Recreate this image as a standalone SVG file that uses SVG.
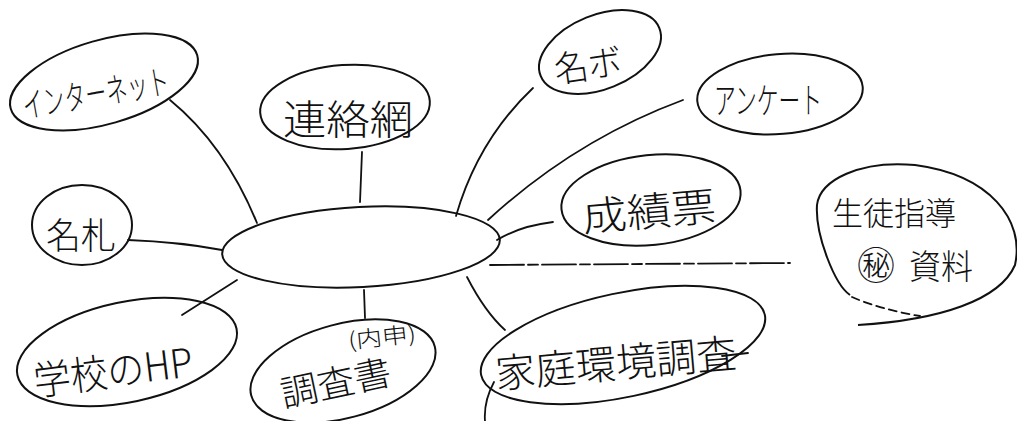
<svg xmlns="http://www.w3.org/2000/svg" width="1017" height="421" viewBox="0 0 1017 421">
<style>
.n{fill:none;stroke:#111;stroke-width:2}
.t{font-family:"Noto Sans CJK JP","Noto Sans CJK SC",sans-serif;fill:#111;font-weight:300}
.c{fill:none;stroke:#111;stroke-width:1.8;stroke-linecap:round}
</style>
<rect width="1017" height="421" fill="#fff"/>
<g id="connectors">
<path class="c" d="M170,100 Q225,145 257,223"/>
<path class="c" d="M362,152 L360,202"/>
<path class="c" d="M533,88 Q478,140 456,216"/>
<path class="c" d="M683,100 Q575,140 488,220"/>
<path class="c" d="M497,240 Q520,226 553,222"/>
<path class="c" d="M490,265 L790,263" stroke-dasharray="34 4 10 4"/>
<path class="c" d="M128,240 Q180,242 222,250"/>
<path class="c" d="M237,280 L182,315"/>
<path class="c" d="M364,290 L365,318"/>
<path class="c" d="M467,277 Q485,312 505,330"/>
</g>
<g id="center"><ellipse class="n" cx="361" cy="247" rx="139" ry="40" transform="rotate(-3 361 247)"/></g>
<g id="internet">
<ellipse class="n" cx="104" cy="82" rx="97" ry="42" transform="rotate(-16 104 82)"/>
<text class="t" x="22" y="106" font-size="34" textLength="148" lengthAdjust="spacingAndGlyphs" transform="rotate(-10 95 95)">インターネット</text>
</g>
<g id="renrakumou">
<ellipse class="n" cx="345" cy="107" rx="85" ry="42" transform="rotate(-4 345 107)"/>
<text class="t" x="283" y="134" font-size="40" textLength="130" lengthAdjust="spacingAndGlyphs">連絡網</text>
</g>
<g id="meibo">
<ellipse class="n" cx="600" cy="52" rx="64" ry="37" transform="rotate(-22 600 52)"/>
<text class="t" x="554" y="78" font-size="36" textLength="68" lengthAdjust="spacingAndGlyphs" transform="rotate(-8 590 65)">名ボ</text>
</g>
<g id="enquete">
<ellipse class="n" cx="780" cy="94" rx="83" ry="40" transform="rotate(-5 780 94)"/>
<text class="t" x="714" y="114" font-size="36" textLength="108" lengthAdjust="spacingAndGlyphs">アンケート</text>
</g>
<g id="seisekihyou">
<ellipse class="n" cx="651" cy="200" rx="90" ry="45" transform="rotate(-6 651 200)"/>
<text class="t" x="582" y="226" font-size="40" textLength="134" lengthAdjust="spacingAndGlyphs" transform="rotate(-5 650 212)">成績票</text>
</g>
<g id="seitoshidou">
<path class="n" d="M858,325 C940,320 1000,300 1015,265 C1025,220 990,175 915,165 C860,160 820,180 817,205 C815,235 835,285 850,295"/>
<path class="c" d="M852,297 C870,305 895,312 920,316" stroke-dasharray="8 5"/>
<text class="t" x="832" y="225" font-size="32" textLength="124" lengthAdjust="spacingAndGlyphs">生徒指導</text>
<text class="t" x="857" y="279" font-size="38">㊙</text>
<text class="t" x="909" y="279" font-size="34" textLength="64" lengthAdjust="spacingAndGlyphs">資料</text>
</g>
<g id="nafuda">
<ellipse class="n" cx="82" cy="225" rx="50" ry="40"/>
<text class="t" x="46" y="249" font-size="36" textLength="70" lengthAdjust="spacingAndGlyphs">名札</text>
</g>
<g id="gakkou-hp">
<ellipse class="n" cx="127" cy="352" rx="112" ry="50" transform="rotate(-12 127 352)"/>
<text class="t" x="33" y="386" font-size="40" textLength="160" lengthAdjust="spacingAndGlyphs" transform="rotate(-7 113 370)">学校のHP</text>
</g>
<g id="chousasho">
<ellipse class="n" cx="343" cy="371" rx="95" ry="47" transform="rotate(-15 343 371)"/>
<text class="t" x="348" y="345" font-size="22" textLength="68" lengthAdjust="spacingAndGlyphs" transform="rotate(-6 382 337)">(内申)</text>
<text class="t" x="280" y="396" font-size="36" textLength="112" lengthAdjust="spacingAndGlyphs" transform="rotate(-12 335 384)">調査書</text>
</g>
<g id="katei">
<ellipse class="n" cx="623" cy="345" rx="145" ry="52" transform="rotate(-12 623 345)"/>
<text class="t" x="495" y="378" font-size="40" textLength="242" lengthAdjust="spacingAndGlyphs" transform="rotate(-5 615 365)">家庭環境調査</text>
<path class="c" d="M722,356 L748,353"/>
<path class="c" d="M494,382 C487,395 484,408 485,421" stroke-width="1.2"/>
</g>
</svg>
